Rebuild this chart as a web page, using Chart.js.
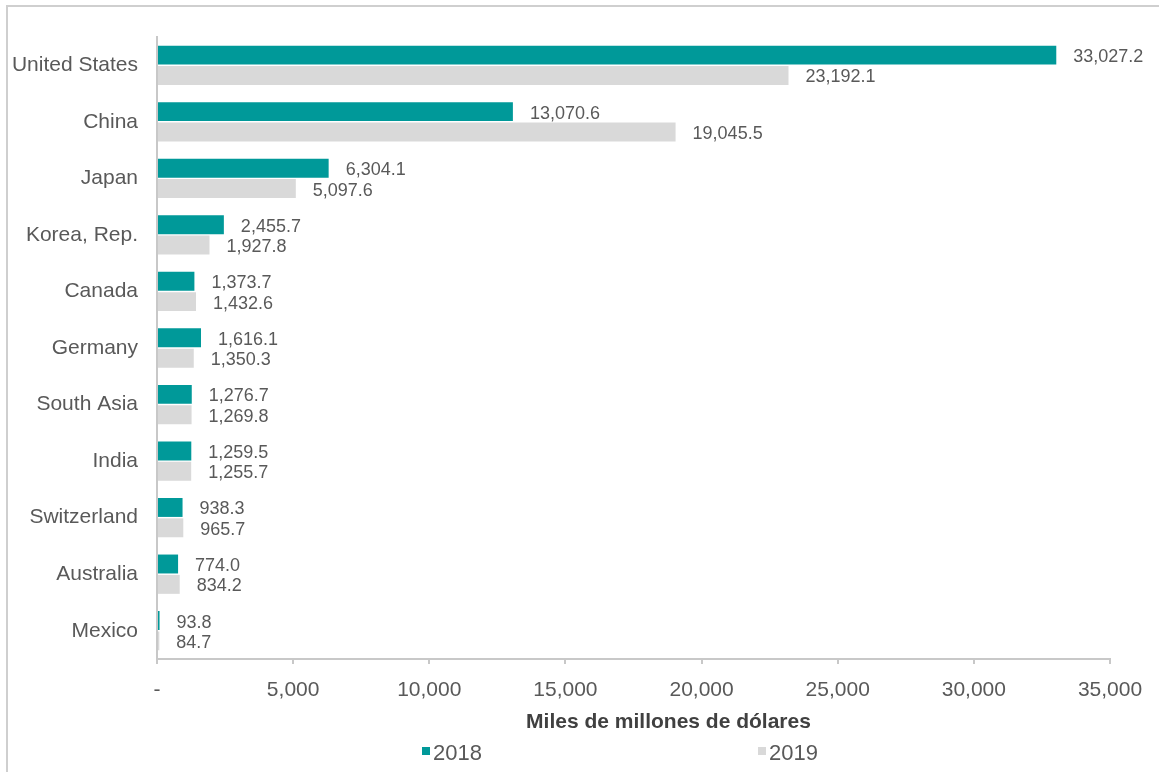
<!DOCTYPE html>
<html>
<head>
<meta charset="utf-8">
<script src="https://cdn.jsdelivr.net/npm/chart.js@4.4.0/dist/chart.umd.min.js"></script>
<style>
  html, body { margin: 0; padding: 0; background: #ffffff; }
  #wrap { position: relative; width: 1159px; height: 772px; overflow: hidden; }
  #frame { position: absolute; left: 6px; top: 5px; width: 1300px; height: 900px;
           border-top: 2px solid #cfcfcf; border-left: 2px solid #cfcfcf; }
  #c { position: absolute; left: 0; top: 0; }
</style>
</head>
<body>
<div id="wrap">
  <div id="frame"></div>
  <canvas id="c" width="1159" height="772"></canvas>
</div>
<script>
// Countries / regions, top to bottom
const countries = [
  'United States', 'China', 'Japan', 'Korea, Rep.', 'Canada', 'Germany',
  'South Asia', 'India', 'Switzerland', 'Australia', 'Mexico'
];
// Values in miles de millones de dólares
const values2018 = [33027.2, 13070.6, 6304.1, 2455.7, 1373.7, 1616.1, 1276.7, 1259.5, 938.3, 774.0, 93.8];
const values2019 = [23192.1, 19045.5, 5097.6, 1927.8, 1432.6, 1350.3, 1269.8, 1255.7, 965.7, 834.2, 84.7];
const seriesNames = ['2018', '2019'];
const seriesColors = ['#009999', '#d9d9d9'];
const axisTitle = 'Miles de millones de dólares';
const xMin = 0, xMax = 35000, xStep = 5000;

const FONT = '"Liberation Sans", Arial, Helvetica, sans-serif';
const TEXT = '#595959';
const LINE = '#c8c8c8';

const fmtValue = v => v.toLocaleString('en-US', { minimumFractionDigits: 1, maximumFractionDigits: 1 });
const fmtTick = v => v === 0 ? '-' : v.toLocaleString('en-US');

// Value labels just past the end of each bar
const valueLabels = {
  id: 'valueLabels',
  afterDatasetsDraw(chart) {
    const ctx = chart.ctx;
    ctx.save();
    ctx.font = '18px ' + FONT;
    ctx.fillStyle = TEXT;
    ctx.textAlign = 'left';
    ctx.textBaseline = 'middle';
    chart.data.datasets.forEach((ds, i) => {
      chart.getDatasetMeta(i).data.forEach((bar, j) => {
        ctx.fillText(fmtValue(ds.data[j]), bar.x + 17, bar.y + 2);
      });
    });
    ctx.restore();
  }
};

// Axis caption and the two-item legend under the plot
const captionAndLegend = {
  id: 'captionAndLegend',
  afterDraw(chart) {
    const ctx = chart.ctx;
    const area = chart.chartArea;
    ctx.save();
    ctx.font = 'bold 21px ' + FONT;
    ctx.fillStyle = '#404040';
    ctx.textAlign = 'center';
    ctx.textBaseline = 'middle';
    ctx.fillText(axisTitle, (area.left + area.right) / 2 + 35, 722);

    const itemX = [422, 758];
    ctx.font = '22px ' + FONT;
    ctx.textAlign = 'left';
    chart.data.datasets.forEach((ds, i) => {
      ctx.fillStyle = ds.backgroundColor;
      ctx.fillRect(itemX[i], 747, 8, 8);
      ctx.fillStyle = TEXT;
      ctx.fillText(ds.label, itemX[i] + 11, 754);
    });
    ctx.restore();
  }
};

new Chart(document.getElementById('c'), {
  type: 'bar',
  data: {
    labels: countries,
    datasets: [
      { label: seriesNames[0], data: values2018, backgroundColor: seriesColors[0],
        categoryPercentage: 0.72, barPercentage: 0.93, borderWidth: 0 },
      { label: seriesNames[1], data: values2019, backgroundColor: seriesColors[1],
        categoryPercentage: 0.72, barPercentage: 0.93, borderWidth: 0 }
    ]
  },
  options: {
    indexAxis: 'y',
    responsive: false,
    animation: false,
    devicePixelRatio: 1,
    layout: { padding: { top: 37, right: 49, bottom: 0, left: 0 } },
    plugins: {
      legend: { display: false },
      tooltip: { enabled: false },
      title: { display: false }
    },
    scales: {
      x: {
        min: xMin,
        max: xMax,
        afterFit: s => { s.height = 113; },
        ticks: {
          stepSize: xStep,
          padding: 14,
          maxRotation: 0,
          color: TEXT,
          font: { family: FONT, size: 21 },
          callback: v => fmtTick(v)
        },
        grid: { drawOnChartArea: false, drawTicks: true, tickLength: 5, color: LINE, lineWidth: 2 },
        border: { display: true, color: LINE, width: 2 }
      },
      y: {
        afterFit: s => { s.width = 157; },
        ticks: {
          padding: 19,
          color: TEXT,
          font: { family: FONT, size: 21 }
        },
        grid: { display: false, drawTicks: false },
        border: { display: true, color: LINE, width: 2 }
      }
    }
  },
  plugins: [valueLabels, captionAndLegend]
});
</script>
</body>
</html>
